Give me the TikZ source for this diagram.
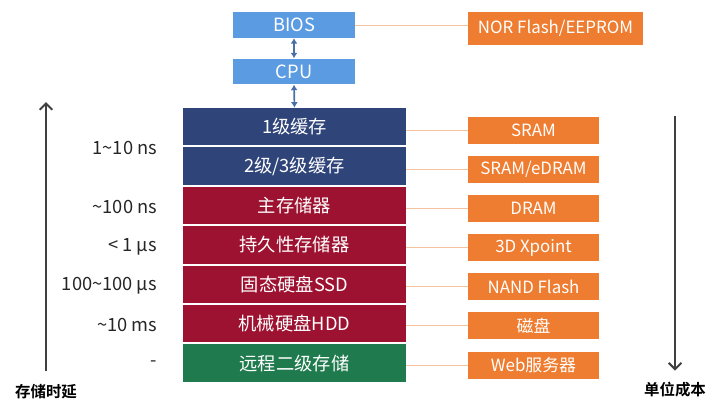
\documentclass[tikz,border=0pt]{standalone}
\usepackage{fontspec}
\setmainfont{Noto Sans CJK SC}[BoldFont={Noto Sans CJK SC Bold}]
\usetikzlibrary{arrows.meta}

\definecolor{chipblue}{HTML}{5B9BE2}
\definecolor{cachenavy}{HTML}{2F4479}
\definecolor{memred}{HTML}{9C1230}
\definecolor{remotegreen}{HTML}{1F7A4D}
\definecolor{mediaorange}{HTML}{EE7D31}
\definecolor{linkorange}{HTML}{F6C3A0}
\definecolor{busblue}{HTML}{4A6FA8}
\definecolor{axisgray}{HTML}{404040}
\definecolor{textgray}{HTML}{262626}

\begin{document}
\begin{tikzpicture}[x=0.025cm, y=-0.025cm,
    layer/.style={rectangle, minimum width=5.575cm, minimum height=0.935cm, inner sep=0pt,
        text=white, font=\fontsize{13}{15}\selectfont},
    chip/.style={rectangle, fill=chipblue, minimum width=3.05cm, minimum height=0.64cm, inner sep=0pt,
        text=white, font=\fontsize{13}{15}\selectfont},
    media/.style={rectangle, fill=mediaorange, minimum width=3.275cm, minimum height=0.675cm, inner sep=0pt,
        text=white, font=\fontsize{12}{14}\selectfont},
    link/.style={draw=linkorange, line width=0.7pt},
    bus/.style={draw=busblue, line width=1.2pt, {Latex[length=4pt,width=5pt]}-{Latex[length=4pt,width=5pt]}},
    latency/.style={anchor=east, text=textgray, font=\fontsize{13}{15}\selectfont},
    axis/.style={draw=axisgray, line width=1.4pt, -{Straight Barb[length=4.5pt,width=9pt]}},
    axislabel/.style={text=black, font=\bfseries\fontsize{11}{13}\selectfont}
]
    \useasboundingbox (0,0) rectangle (720,408);

    % processor side
    \node[chip] (bios) at (294,25) {BIOS};
    \node[chip] (cpu) at (294,71.5) {CPU};

    % memory hierarchy
    \node[layer, fill=cachenavy] (l1) at (294.5,126.7) {1级缓存};
    \node[layer, fill=cachenavy] (l23) at (294.5,166.1) {2级/3级缓存};
    \node[layer, fill=memred] (mem) at (294.5,205.5) {主存储器};
    \node[layer, fill=memred] (pmem) at (294.5,244.9) {持久性存储器};
    \node[layer, fill=memred] (ssd) at (294.5,284.3) {固态硬盘SSD};
    \node[layer, fill=memred] (hdd) at (294.5,323.7) {机械硬盘HDD};
    \node[layer, fill=remotegreen] (remote) at (294.5,363.1) {远程二级存储};

    % buses
    \draw[bus] (bios.south) -- (cpu.north);
    \draw[bus] (cpu.south) -- (l1.north);

    % media
    \node[media, minimum width=4.375cm, minimum height=0.825cm] (nor) at (555.5,28.5) {NOR Flash/EEPROM};
    \node[media] (sram) at (533.5,130.5) {SRAM};
    \node[media] (edram) at (533.5,169.5) {SRAM/eDRAM};
    \node[media] (dram) at (533.5,208.5) {DRAM};
    \node[media] (xpoint) at (533.5,247.5) {3D Xpoint};
    \node[media] (nand) at (533.5,286.5) {NAND Flash};
    \node[media] (disk) at (533.5,325.5) {磁盘};
    \node[media] (web) at (533.5,365) {Web服务器};

    % links
    \draw[link] (bios.east) -- (bios.east -| nor.west);
    \draw[link] (sram.west -| l1.east) -- (sram.west);
    \draw[link] (edram.west -| l23.east) -- (edram.west);
    \draw[link] (dram.west -| mem.east) -- (dram.west);
    \draw[link] (xpoint.west -| pmem.east) -- (xpoint.west);
    \draw[link] (nand.west -| ssd.east) -- (nand.west);
    \draw[link] (disk.west -| hdd.east) -- (disk.west);
    \draw[link] (web.west -| remote.east) -- (web.west);

    % latency
    \node[latency] (tcache) at (162,148) {1\textasciitilde10 ns};
    \node[latency] (tmem) at (162,207) {\textasciitilde100 ns};
    \node[latency] (tpmem) at (162,246.5) {< 1 µs};
    \node[latency] (tssd) at (162,285.5) {100\textasciitilde100 µs};
    \node[latency] (thdd) at (162,325) {\textasciitilde10 ms};
    \node[latency] (tremote) at (162,363.5) {-};

    % axes
    \node[axislabel] (delay) at (46,392) {存储时延};
    \coordinate (delaytop) at (46,102);
    \draw[axis] ([yshift=6pt]delay.north) -- (delaytop);
    \node[axislabel] (cost) at (675,390) {单位成本};
    \coordinate (costtop) at (675,116);
    \draw[axis] (costtop) -- ([yshift=5pt]cost.north);
\end{tikzpicture}
\end{document}
